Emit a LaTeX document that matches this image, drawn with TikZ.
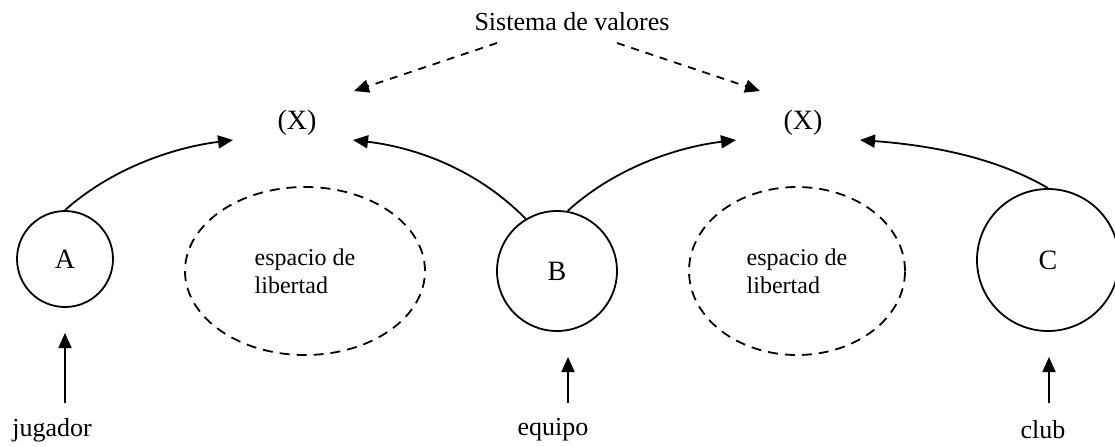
\documentclass[tikz,border=0pt]{standalone}
\usepackage{fontspec}
\setmainfont{Liberation Serif}
\usetikzlibrary{shapes.geometric,arrows.meta}
\begin{document}
\begin{tikzpicture}[x=0.5pt,y=-0.5pt,
  font=\fontsize{13}{15}\selectfont,
  tip/.style={-{Triangle[length=7.5pt,width=6.5pt]}},
  link/.style={tip,line width=0.9pt},
  vlink/.style={tip,line width=0.9pt,dash pattern=on 4pt off 3.5pt},
  actor/.style={circle,draw,line width=0.9pt,inner sep=0pt,font=\fontsize{14}{16}\selectfont},
  free/.style={ellipse,draw,line width=0.9pt,dash pattern=on 5pt off 3.5pt,inner sep=0pt,
     align=left,font=\fontsize{12}{14}\selectfont},
  lbl/.style={inner sep=0pt},
  xlbl/.style={inner sep=0pt,font=\fontsize{14}{16}\selectfont}]
\useasboundingbox (0,0) rectangle (1115,446);
% nodes
\node[lbl] (sis) at (572,22) {Sistema de valores};
\node[xlbl] (xl) at (297,123) {(X)};
\node[xlbl] (xr) at (803,123) {(X)};
\node[actor,minimum size=48pt] (A) at (65,259) {A};
\node[actor,minimum size=60pt] (B) at (557,271) {B};
\node[actor,minimum size=71pt] (C) at (1048,260) {C};
\node[free,minimum width=120pt,minimum height=84pt] (e1) at (305,271) {espacio de\\libertad};
\node[free,minimum width=108pt,minimum height=84pt] (e2) at (797,271) {espacio de\\libertad};
\node[lbl] (jug) at (52,430) {jugador};
\node[lbl] (equ) at (553,430) {equipo};
\node[lbl] (clu) at (1043,430) {club};
% coordinates
\coordinate (sl) at (497,43);
\coordinate (sr) at (617,43);
\coordinate (tsl) at (354,91);
\coordinate (tsr) at (760,91);
\coordinate (tA) at (233,140);
\coordinate (tBl) at (353,140);
\coordinate (tBr) at (736,140);
\coordinate (tC) at (860,140);
\coordinate (uA0) at (65,403);
\coordinate (uA1) at (65,333);
\coordinate (uB0) at (568,403);
\coordinate (uB1) at (568,357);
\coordinate (uC0) at (1049,403);
\coordinate (uC1) at (1049,357);
% connectors
\draw[vlink] (sl) -- (tsl);
\draw[vlink] (sr) -- (tsr);
\draw[link] (A.north) .. controls (110,170) and (170,148) .. (tA);
\draw[link] (B.121) .. controls (480,172) and (420,148) .. (tBl);
\draw[link] (B.80) .. controls (610,172) and (670,148) .. (tBr);
\draw[link] (C.north) .. controls (1000,160) and (940,146) .. (tC);
\draw[link] (uA0) -- (uA1);
\draw[link] (uB0) -- (uB1);
\draw[link] (uC0) -- (uC1);
\end{tikzpicture}
\end{document}
